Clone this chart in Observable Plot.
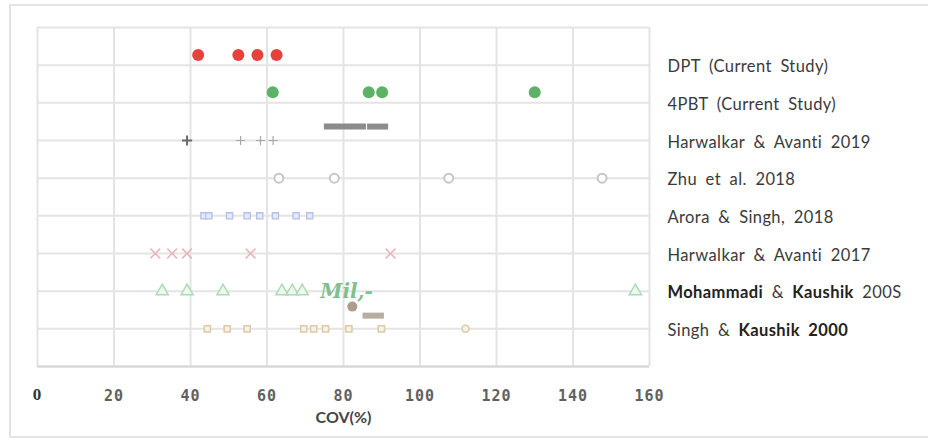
<!DOCTYPE html>
<html><head><meta charset="utf-8">
<script src="https://cdn.jsdelivr.net/npm/d3@7"></script>
<script src="https://cdn.jsdelivr.net/npm/@observablehq/plot@0.6"></script>
<style>
body{margin:0;background:#fff;}
#frame{position:absolute;left:9px;top:4px;width:940px;height:434px;border:2px solid #e4e4e4;box-sizing:border-box;}
#chart{position:absolute;left:0;top:0;}
</style></head><body><div id="frame"></div><div id="chart"></div>
<script>
// Study labels, top to bottom
const studies = [
  "DPT (Current Study)",
  "4PBT (Current Study)",
  "Harwalkar & Avanti 2019",
  "Zhu et al. 2018",
  "Arora & Singh, 2018",
  "Harwalkar & Avanti 2017",
  "Mohammadi & Kaushik 200S",
  "Singh & Kaushik 2000"
];
const boldWords = {
  "Mohammadi & Kaushik 200S": ["Mohammadi", "Kaushik"],
  "Singh & Kaushik 2000": ["Kaushik", "2000"]
};
const xTicks = [0, 20, 40, 60, 80, 100, 120, 140, 160];
const xLabel = "COV(%)";

// COV (%) values per study
const dptCov = [42, 52.5, 57.5, 62.5];
const pbtCov = [61.5, 86.6, 90.1, 130];
const harwalkar2019Cov = [39.1, 53.1, 58.3, 61.6];
const harwalkar2019RangeStart = [75, 86.3];
const harwalkar2019RangeEnd = [86, 91.8];
const zhuCov = [63.1, 77.6, 107.5, 147.6];
const aroraCov = [43.5, 44.8, 50.2, 54.8, 58.1, 62.2, 67.6, 71.2];
const harwalkar2017Cov = [30.8, 35.2, 39.1, 55.7, 92.3];
const mohammadiCov = [32.6, 39.1, 48.5, 63.9, 66.6, 69.2, 156.3];
const mohammadiMean = [82.3];
const mohammadiRangeStart = [85.1];
const mohammadiRangeEnd = [90.7];
const mohammadiNote = ["Mil,-"];
const mohammadiNoteX = [80.8];
const singhCov = [44.4, 49.6, 54.8, 69.6, 72.2, 75.3, 81.4, 89.9, 111.9];

const rowOf = name => studies.length - studies.indexOf(name);
const rows = studies.map(rowOf);

const chart = Plot.plot({
  width: 928,
  height: 441,
  marginLeft: 37,
  marginRight: 279,
  marginTop: 27,
  marginBottom: 75,
  x: {domain: [0, 160]},
  y: {domain: [0, 9]},
  style: {background: "transparent"},
  marks: [
    Plot.gridX(xTicks, {stroke: "#e4e4e4", strokeWidth: 2, strokeOpacity: 1}),
    Plot.gridY(d3.range(0, 10), {stroke: "#e4e4e4", strokeWidth: 2, strokeOpacity: 1}),
    Plot.ruleY([0], {stroke: "#d6d6d6", strokeWidth: 2}),
    Plot.axisX(xTicks, {tickSize: 0, tickPadding: 24, label: null, tickFormat: d => String(d),
      fontFamily: "DejaVu Sans Mono", fontSize: 15, fontWeight: 600, fill: "#606060"}),
    Plot.axisY(rows, {anchor: "right", tickSize: 0, tickPadding: 18, label: null, dy: 2,
      tickFormat: r => studies[studies.length - r], textAnchor: "start",
      fontFamily: "Lato", fontSize: 16.5, fill: "#3a3a3a"}),
    Plot.text([xLabel], {frameAnchor: "bottom", dy: 56, text: d => d,
      fontFamily: "Lato", fontWeight: "bold", fontSize: 16, fill: "#444"}),

    // Singh & Kaushik 2000
    Plot.dot(singhCov, {x: d => d, y: rowOf("Singh & Kaushik 2000"),
      symbol: (d, i) => i === singhCov.length - 1 ? "circle" : "square",
      r: 3.5, stroke: "#dccaa8", strokeWidth: 1.5, fill: "#f7f1e6"}),
    // Mohammadi & Kaushik
    Plot.dot(mohammadiCov, {x: d => d, y: rowOf("Mohammadi & Kaushik 200S"),
      symbol: "triangle", r: 4.5, stroke: "#acdab5", strokeWidth: 1.5, fill: "#ecf7ee"}),
    Plot.text(mohammadiNote, {x: (d, i) => mohammadiNoteX[i], y: rowOf("Mohammadi & Kaushik 200S"), text: d => d,
      fontFamily: "DejaVu Serif", fontStyle: "italic", fontWeight: "bold", fontSize: 20, fill: "#80c08f"}),
    Plot.dot(mohammadiMean, {x: d => d, y: rowOf("Mohammadi & Kaushik 200S") - 0.41, r: 5, fill: "#ab9e90"}),
    Plot.ruleY(mohammadiRangeStart, {x1: d => d, x2: (d, i) => mohammadiRangeEnd[i],
      y: rowOf("Mohammadi & Kaushik 200S") - 0.65, stroke: "#b8ada1", strokeWidth: 6}),
    // Harwalkar & Avanti 2017
    Plot.dot(harwalkar2017Cov, {x: d => d, y: rowOf("Harwalkar & Avanti 2017"),
      symbol: "times", r: 4.5, stroke: "#eab4ba", strokeWidth: 1.5}),
    // Arora & Singh
    Plot.dot(aroraCov, {x: d => d, y: rowOf("Arora & Singh, 2018"),
      symbol: "square", r: 3.5, stroke: "#b6c1ea", strokeWidth: 1.3, fill: "#e4e9f9"}),
    // Zhu et al.
    Plot.dot(zhuCov, {x: d => d, y: rowOf("Zhu et al. 2018"),
      symbol: "circle", r: 4.5, stroke: "#c6c6c6", strokeWidth: 2, fill: "#fff"}),
    // Harwalkar & Avanti 2019
    Plot.dot(harwalkar2019Cov, {x: d => d, y: rowOf("Harwalkar & Avanti 2019"),
      symbol: "plus", r: (d, i) => i === 0 ? 5 : 4, stroke: (d, i) => i === 0 ? "#6a6a6a" : "#a8a8a8", strokeWidth: (d, i) => i === 0 ? 2 : 1.2}),
    Plot.ruleY(harwalkar2019RangeStart, {x1: d => d, x2: (d, i) => harwalkar2019RangeEnd[i],
      y: rowOf("Harwalkar & Avanti 2019") + 0.37, stroke: "#8c8c8c", strokeWidth: 6}),
    // 4PBT
    Plot.dot(pbtCov, {x: d => d, y: rowOf("4PBT (Current Study)") + 0.28, r: 6, fill: "#5db266"}),
    // DPT
    Plot.dot(dptCov, {x: d => d, y: rowOf("DPT (Current Study)") + 0.27, r: 6, fill: "#e6413a"})
  ]
});

// wider label spacing, mixed-weight labels
d3.select(chart).selectAll('g[aria-label="y-axis tick label"] text').each(function() {
  const el = d3.select(this);
  el.style("letter-spacing", "0.4px").style("word-spacing", "4px");
  const label = el.text();
  const bolds = boldWords[label];
  if (!bolds) return;
  el.text(null);
  label.split(" ").forEach((w, i) => {
    el.append("tspan")
      .attr("font-weight", bolds.includes(w) ? "bold" : null)
      .attr("fill", bolds.includes(w) ? "#222" : null)
      .text((i ? " " : "") + w);
  });
});
// the "0" tick is in a serif face
d3.select(chart).selectAll('g[aria-label="x-axis tick label"] text').each(function() {
  const el = d3.select(this);
  el.style("letter-spacing", "1px");
  if (el.text() === "0") el.attr("font-family", "Liberation Serif").attr("font-size", 17)
    .attr("font-weight", "bold").attr("fill", "#333").attr("dy", "-0.15em");
});

document.getElementById("chart").append(chart);
</script>
</body></html>
